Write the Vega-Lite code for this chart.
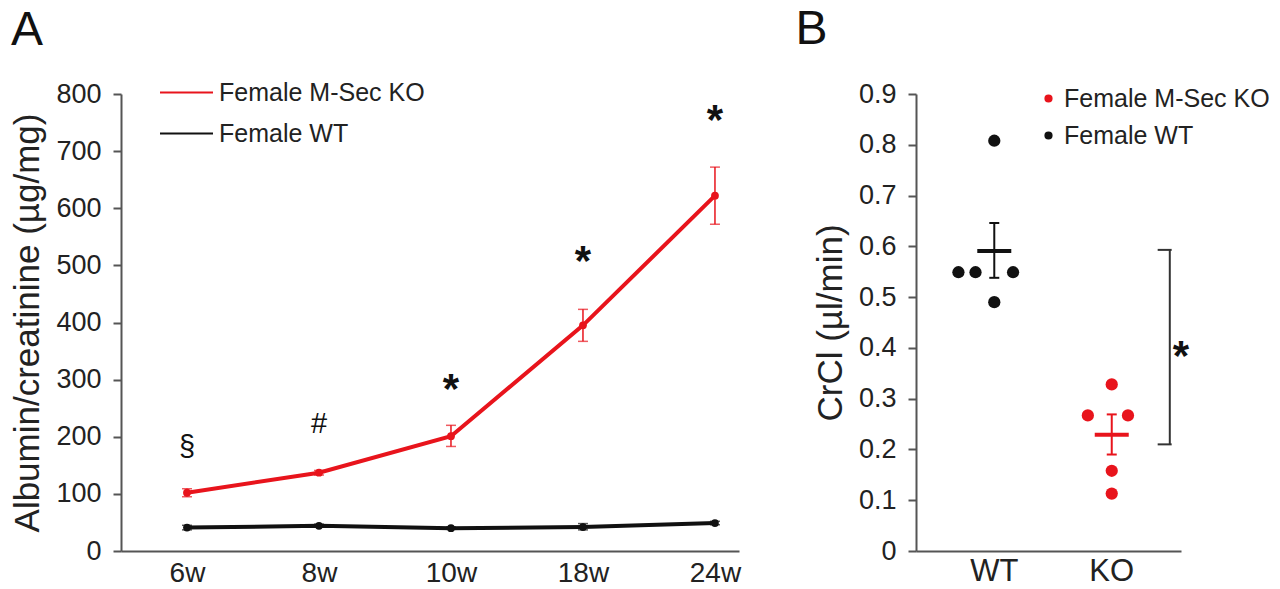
{
  "$schema": "https://vega.github.io/schema/vega-lite/v6.json",
  "background": "white",
  "padding": {"left": 10, "top": 6, "right": 5, "bottom": 5},
  "spacing": 54,
  "config": {
    "font": "Liberation Sans",
    "view": {"stroke": null},
    "axis": {"domainColor": "#555555", "tickColor": "#555555", "labelColor": "#222222", "titleColor": "#222222", "titleFontWeight": "normal", "grid": false, "domainWidth": 2, "tickWidth": 2},
    "axisY": {"labelFontSize": 27, "tickSize": 8, "labelPadding": 12, "titleFontSize": 35, "titlePadding": 10},
    "axisX": {"labelFontSize": 28, "ticks": false, "labelPadding": 8, "labelAngle": 0, "title": null},
    "title": {"fontSize": 48, "fontWeight": "normal", "anchor": "start", "frame": "bounds", "color": "#111111"}
  },
  "datasets": {
    "albumin": [
      {"week": "6w", "group": "Female M-Sec KO", "mean": 102, "lo": 95, "hi": 109},
      {"week": "8w", "group": "Female M-Sec KO", "mean": 137, "lo": 133, "hi": 141},
      {"week": "10w", "group": "Female M-Sec KO", "mean": 201, "lo": 183, "hi": 220},
      {"week": "18w", "group": "Female M-Sec KO", "mean": 395, "lo": 367, "hi": 423},
      {"week": "24w", "group": "Female M-Sec KO", "mean": 622, "lo": 572, "hi": 672},
      {"week": "6w", "group": "Female WT", "mean": 41, "lo": 37, "hi": 45},
      {"week": "8w", "group": "Female WT", "mean": 44, "lo": 42, "hi": 47},
      {"week": "10w", "group": "Female WT", "mean": 40, "lo": 38, "hi": 42},
      {"week": "18w", "group": "Female WT", "mean": 42, "lo": 37, "hi": 48},
      {"week": "24w", "group": "Female WT", "mean": 49, "lo": 46, "hi": 52}
    ],
    "annotA": [
      {"week": "6w", "pos": 182, "label": "§", "kind": "sym"},
      {"week": "8w", "pos": 222, "label": "#", "kind": "sym"},
      {"week": "10w", "pos": 296, "label": "*", "kind": "star"},
      {"week": "18w", "pos": 520, "label": "*", "kind": "star"},
      {"week": "24w", "pos": 767, "label": "*", "kind": "star"}
    ],
    "crcl": [
      {"group": "WT", "genotype": "Female WT", "value": 0.808, "jitter": 0},
      {"group": "WT", "genotype": "Female WT", "value": 0.549, "jitter": -2.1},
      {"group": "WT", "genotype": "Female WT", "value": 0.549, "jitter": -1.1},
      {"group": "WT", "genotype": "Female WT", "value": 0.549, "jitter": 1.1},
      {"group": "WT", "genotype": "Female WT", "value": 0.49, "jitter": 0},
      {"group": "KO", "genotype": "Female M-Sec KO", "value": 0.328, "jitter": 0},
      {"group": "KO", "genotype": "Female M-Sec KO", "value": 0.267, "jitter": -1.4},
      {"group": "KO", "genotype": "Female M-Sec KO", "value": 0.267, "jitter": 0.95},
      {"group": "KO", "genotype": "Female M-Sec KO", "value": 0.158, "jitter": 0},
      {"group": "KO", "genotype": "Female M-Sec KO", "value": 0.113, "jitter": 0}
    ],
    "crclSummary": [
      {"group": "WT", "genotype": "Female WT", "mean": 0.591, "lo": 0.538, "hi": 0.646},
      {"group": "KO", "genotype": "Female M-Sec KO", "mean": 0.229, "lo": 0.19, "hi": 0.269}
    ],
    "bracket": [
      {"group": "KO", "y": 0.21, "y2": 0.593, "jitter": 3.4}
    ],
    "bracketEnds": [
      {"group": "KO", "y": 0.593, "jitter": 3.1},
      {"group": "KO", "y": 0.21, "jitter": 3.1}
    ],
    "annotB": [
      {"group": "KO", "y": 0.397, "jitter": 4.05, "label": "*"}
    ]
  },
  "resolve": {"scale": {"color": "independent"}, "legend": {"color": "independent"}},
  "hconcat": [
    {
      "title": {"text": "A", "offset": 10},
      "width": 618,
      "height": 457,
      "encoding": {
        "x": {"field": "week", "type": "ordinal", "sort": ["6w", "8w", "10w", "18w", "24w"], "scale": {"type": "point", "padding": 0.341, "align": 0.733}}
      },
      "layer": [
        {
          "data": {"name": "albumin"},
          "mark": {"type": "line", "strokeWidth": 4},
          "encoding": {
            "y": {"field": "mean", "type": "quantitative", "scale": {"domain": [0, 800]}, "title": "Albumin/creatinine (µg/mg)", "axis": {"values": [0, 100, 200, 300, 400, 500, 600, 700, 800]}},
            "color": {"field": "group", "type": "nominal", "scale": {"domain": ["Female M-Sec KO", "Female WT"], "range": ["#e8141c", "#111111"]},
              "legend": {"orient": "none", "legendX": 38, "legendY": -29, "title": null, "symbolType": "stroke", "symbolSize": 2809, "symbolStrokeWidth": 2, "labelFontSize": 25, "labelColor": "#222222", "labelOffset": 5, "labelLimit": 0, "rowPadding": -2, "padding": 0}}
          }
        },
        {
          "data": {"name": "albumin"},
          "mark": {"type": "errorbar", "ticks": {"size": 10, "thickness": 1.5}, "rule": {"strokeWidth": 1.5}},
          "encoding": {
            "y": {"field": "lo", "type": "quantitative", "title": "Albumin/creatinine (µg/mg)"},
            "y2": {"field": "hi"},
            "color": {"field": "group", "type": "nominal", "legend": null}
          }
        },
        {
          "data": {"name": "albumin"},
          "mark": {"type": "circle", "size": 60, "opacity": 1},
          "encoding": {
            "y": {"field": "mean", "type": "quantitative", "title": "Albumin/creatinine (µg/mg)"},
            "color": {"field": "group", "type": "nominal", "legend": null}
          }
        },
        {
          "data": {"name": "annotA"},
          "transform": [{"filter": "datum.kind === 'star'"}],
          "mark": {"type": "text", "fontSize": 42, "fontWeight": "bold", "color": "#111111", "baseline": "middle", "dy": 8},
          "encoding": {
            "y": {"field": "pos", "type": "quantitative", "title": "Albumin/creatinine (µg/mg)"},
            "text": {"field": "label"}
          }
        },
        {
          "data": {"name": "annotA"},
          "transform": [{"filter": "datum.kind === 'sym'"}],
          "mark": {"type": "text", "fontSize": 29, "color": "#111111", "baseline": "middle"},
          "encoding": {
            "y": {"field": "pos", "type": "quantitative", "title": "Albumin/creatinine (µg/mg)"},
            "text": {"field": "label"}
          }
        }
      ]
    },
    {
      "title": {"text": "B", "offset": 26, "dx": -18},
      "width": 265,
      "height": 457,
      "encoding": {
        "x": {"field": "group", "type": "nominal", "sort": ["WT", "KO"], "scale": {"domain": ["WT", "KO"], "paddingInner": 0, "paddingOuter": 0.128, "align": 0.65}, "axis": {"labelFontSize": 31, "labelPadding": 5}}
      },
      "layer": [
        {
          "data": {"name": "crcl"},
          "mark": {"type": "circle", "size": 150, "opacity": 1},
          "encoding": {
            "y": {"field": "value", "type": "quantitative", "scale": {"domain": [0, 0.9]}, "title": "CrCl (µl/min)", "axis": {"values": [0, 0.1, 0.2, 0.3, 0.4, 0.5, 0.6, 0.7, 0.8, 0.9], "format": ".1~f"}},
            "xOffset": {"field": "jitter", "type": "quantitative", "scale": {"domain": [-3.44, 3.44]}},
            "color": {"field": "genotype", "type": "nominal", "scale": {"domain": ["Female M-Sec KO", "Female WT"], "range": ["#e8141c", "#111111"]},
              "legend": {"orient": "none", "legendX": 120, "legendY": -8, "title": null, "symbolType": "circle", "symbolSize": 45, "labelFontSize": 25, "labelColor": "#222222", "labelOffset": 3, "labelLimit": 0, "rowPadding": 11, "padding": 0}}
          }
        },
        {
          "data": {"name": "crclSummary"},
          "mark": {"type": "tick", "orient": "horizontal", "size": 34, "thickness": 4, "opacity": 1},
          "encoding": {
            "y": {"field": "mean", "type": "quantitative", "title": "CrCl (µl/min)"},
            "color": {"field": "genotype", "type": "nominal", "legend": null}
          }
        },
        {
          "data": {"name": "crclSummary"},
          "mark": {"type": "errorbar", "ticks": {"size": 10, "thickness": 2, "opacity": 1}, "rule": {"strokeWidth": 2}},
          "encoding": {
            "y": {"field": "lo", "type": "quantitative", "title": "CrCl (µl/min)"},
            "y2": {"field": "hi"},
            "color": {"field": "genotype", "type": "nominal", "legend": null}
          }
        },
        {
          "data": {"name": "bracket"},
          "mark": {"type": "rule", "color": "#333333", "strokeWidth": 2},
          "encoding": {
            "y": {"field": "y", "type": "quantitative", "title": "CrCl (µl/min)"},
            "y2": {"field": "y2"},
            "xOffset": {"field": "jitter", "type": "quantitative", "scale": {"domain": [-3.44, 3.44]}}
          }
        },
        {
          "data": {"name": "bracketEnds"},
          "mark": {"type": "tick", "orient": "horizontal", "size": 14, "thickness": 2, "color": "#333333", "opacity": 1},
          "encoding": {
            "y": {"field": "y", "type": "quantitative", "title": "CrCl (µl/min)"},
            "xOffset": {"field": "jitter", "type": "quantitative", "scale": {"domain": [-3.44, 3.44]}}
          }
        },
        {
          "data": {"name": "annotB"},
          "mark": {"type": "text", "fontSize": 42, "fontWeight": "bold", "color": "#111111", "baseline": "middle", "dy": 8},
          "encoding": {
            "y": {"field": "y", "type": "quantitative", "title": "CrCl (µl/min)"},
            "xOffset": {"field": "jitter", "type": "quantitative", "scale": {"domain": [-3.44, 3.44]}},
            "text": {"field": "label"}
          }
        }
      ]
    }
  ]
}
